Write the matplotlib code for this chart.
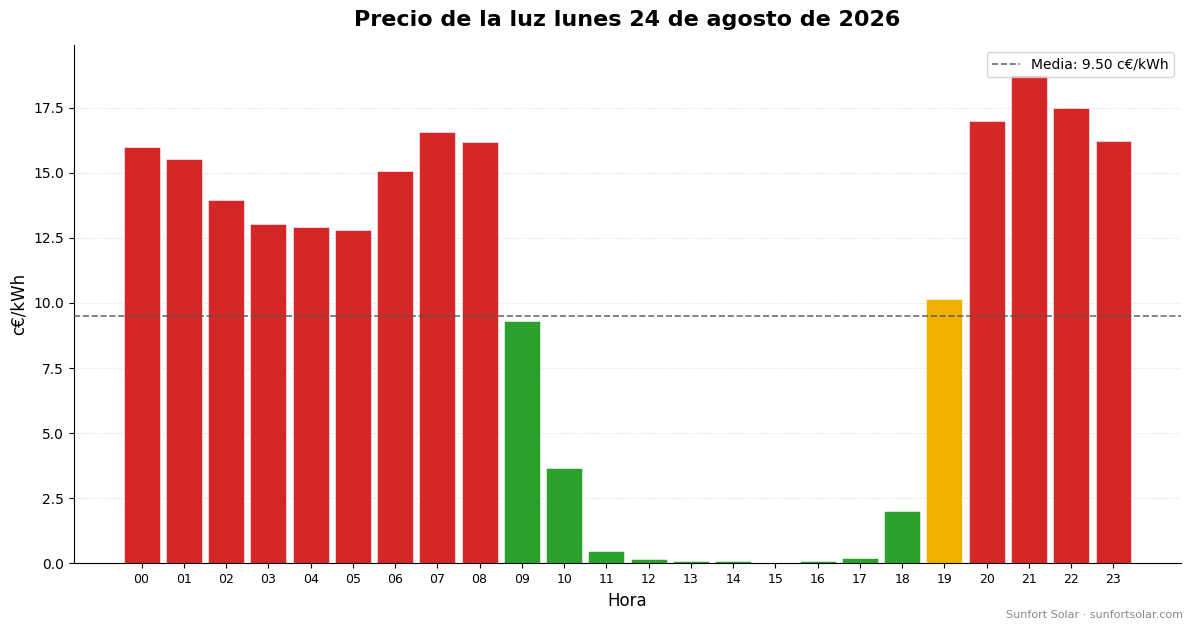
import numpy as np
import matplotlib
matplotlib.use('Agg')
import matplotlib.pyplot as plt

horas = ['%02d' % h for h in range(24)]
precios = [16.0, 15.54, 13.96, 13.04, 12.92, 12.81, 15.08, 16.58, 16.19, 9.31,
           3.65, 0.48, 0.15, 0.07, 0.07, 0.02, 0.07, 0.22, 2.02, 10.15,
           17.0, 18.77, 17.5, 16.23]
media = 9.50

colores = []
for p in precios:
    if p < media:
        colores.append('#2ca02c')
    elif p < media * 1.1:
        colores.append('#f0b000')
    else:
        colores.append('#d62728')

fig, ax = plt.subplots(figsize=(11.93, 6.28), dpi=100)
x = np.arange(len(horas))
ax.bar(x, precios, color=colores, width=0.85, edgecolor='white', linewidth=0.4, zorder=2)
ax.axhline(media, color='#555555', linestyle='--', linewidth=1.2, alpha=0.85,
           label='Media: %.2f c€/kWh' % media, zorder=3)
ax.set_xticks(x)
ax.set_xticklabels(horas, fontsize=9)
ax.set_ylim(0, 19.9)
ax.set_xlim(-1.6, 24.6)
ax.grid(axis='y', linestyle=':', color='#dddddd', zorder=0)
ax.spines['top'].set_visible(False)
ax.spines['right'].set_visible(False)
ax.set_xlabel('Hora', fontsize=12)
ax.set_ylabel('c€/kWh', fontsize=12)
ax.set_title('Precio de la luz lunes 24 de agosto de 2026', fontsize=16, fontweight='bold', pad=14)
ax.legend(loc='upper right', fontsize=10)
fig.text(0.992, 0.012, 'Sunfort Solar · sunfortsolar.com', ha='right', va='bottom',
         fontsize=8, color='#888888')
plt.subplots_adjust(left=0.062, right=0.99, top=0.928, bottom=0.103)
plt.savefig('out.png')
